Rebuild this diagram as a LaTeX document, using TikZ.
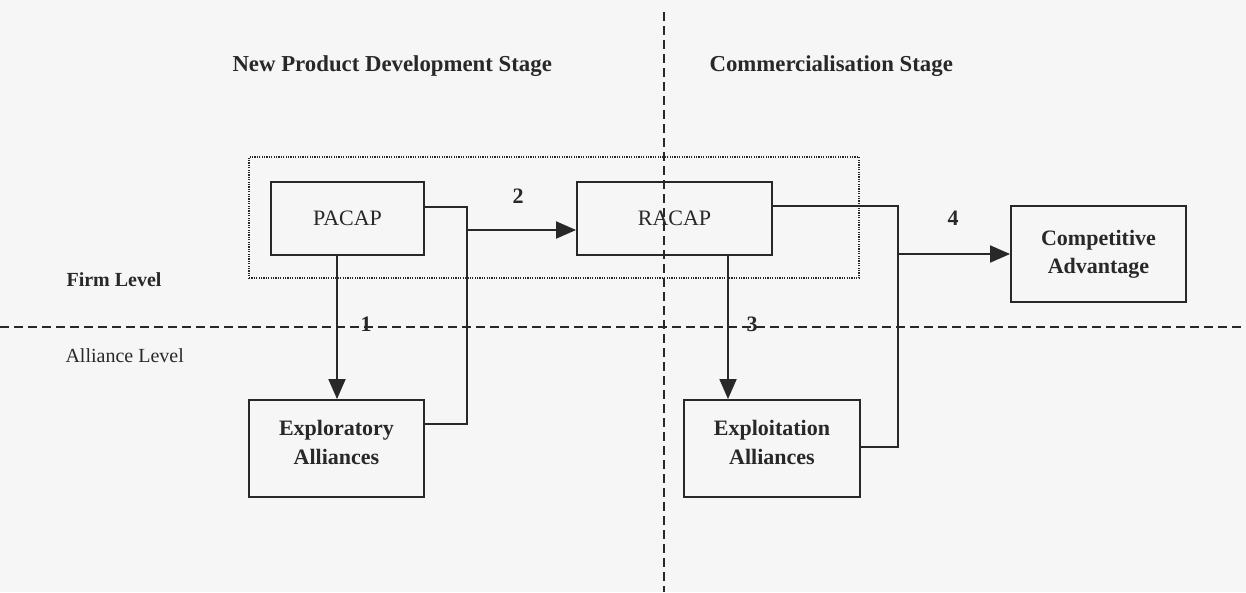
\documentclass[tikz,border=0pt]{standalone}
\usepackage{fontspec}
\setmainfont{Liberation Serif}
\usetikzlibrary{arrows.meta}
\definecolor{ink}{RGB}{40,40,40}
\definecolor{paper}{RGB}{246,246,246}
\begin{document}
\begin{tikzpicture}[x=1pt,y=-1pt,
  every node/.style={text=ink,font=\fontsize{22}{29}\selectfont},
  box/.style={draw=ink,line width=1.9pt,inner sep=0pt,align=center},
  wire/.style={draw=ink,line width=1.9pt},
  arr/.style={wire,-{Triangle[length=20pt,width=17pt]}},
  divider/.style={draw=ink,line width=1.8pt,dash pattern=on 9pt off 5pt},
  zone/.style={draw=ink,line width=1.8pt,dash pattern=on 1.2pt off 1.2pt},
  num/.style={font=\fontsize{22}{26}\selectfont\bfseries}]
% page and background
\fill[paper] (0,0) rectangle (1246,592);
\useasboundingbox (0,0) rectangle (1246,592);

% stage / level dividers
\coordinate (vtop) at (664,12);
\coordinate (vbot) at (664,592);
\coordinate (hl) at (0,327);
\coordinate (hr) at (1246,327);
\draw[divider] (vtop) -- (vbot);
\draw[divider] (hl) -- (hr);

% headings
\node[anchor=base west,font=\fontsize{22.8}{26}\selectfont\bfseries] (npd) at (229,71) {New Product Development Stage};
\node[anchor=base west,font=\fontsize{22.8}{26}\selectfont\bfseries] (com) at (706,71) {Commercialisation Stage};
\node[anchor=base west,font=\fontsize{20}{24}\selectfont\bfseries] (firm) at (63,286) {Firm Level};
\node[anchor=base west,font=\fontsize{20}{24}\selectfont] (alli) at (62,362) {Alliance Level};

% firm-level grouping
\node[zone,minimum width=610pt,minimum height=121pt,inner sep=0pt] (grp) at (554,217.5) {};

% boxes
\node[box,minimum width=153pt,minimum height=73pt] (pacap) at (347.5,218.5) {PACAP};
\node[box,minimum width=195pt,minimum height=73pt] (racap) at (674.5,218.5) {RACAP};
\node[box,minimum width=175pt,minimum height=96pt,font=\fontsize{22}{28}\selectfont\bfseries] (comp) at (1098.5,254) {Competitive\\Advantage};
\node[box,minimum width=175pt,minimum height=97pt,font=\fontsize{22}{29}\selectfont\bfseries] (explor) at (336.5,448.5) {Exploratory\\Alliances\\[-16pt]};
\node[box,minimum width=176pt,minimum height=97pt,font=\fontsize{22}{29}\selectfont\bfseries] (exploit) at (772,448.5) {Exploitation\\Alliances\\[-16pt]};

% routing points
\coordinate (a1) at (337,0);
\coordinate (a3) at (728,0);
\coordinate (l1t) at (467,207);
\coordinate (l1m) at (467,230);
\coordinate (l1b) at (467,424);
\coordinate (l2t) at (898,206);
\coordinate (l2m) at (898,254);
\coordinate (l2b) at (898,447);

% connectors
\draw[arr] (pacap.south -| a1) -- (explor.north -| a1);
\draw[wire] (pacap.east |- l1t) -- (l1t) -- (l1b) -- (explor.east |- l1b);
\draw[arr] (l1m) -- (racap.west |- l1m);
\draw[arr] (racap.south -| a3) -- (exploit.north -| a3);
\draw[wire] (racap.east |- l2t) -- (l2t) -- (l2b) -- (exploit.east |- l2b);
\draw[arr] (l2m) -- (comp.west);

% path numbers
\node[num] (n1) at (366,324) {1};
\node[num] (n2) at (518,196) {2};
\node[num] (n3) at (752,324) {3};
\node[num] (n4) at (953,218) {4};
\end{tikzpicture}
\end{document}
